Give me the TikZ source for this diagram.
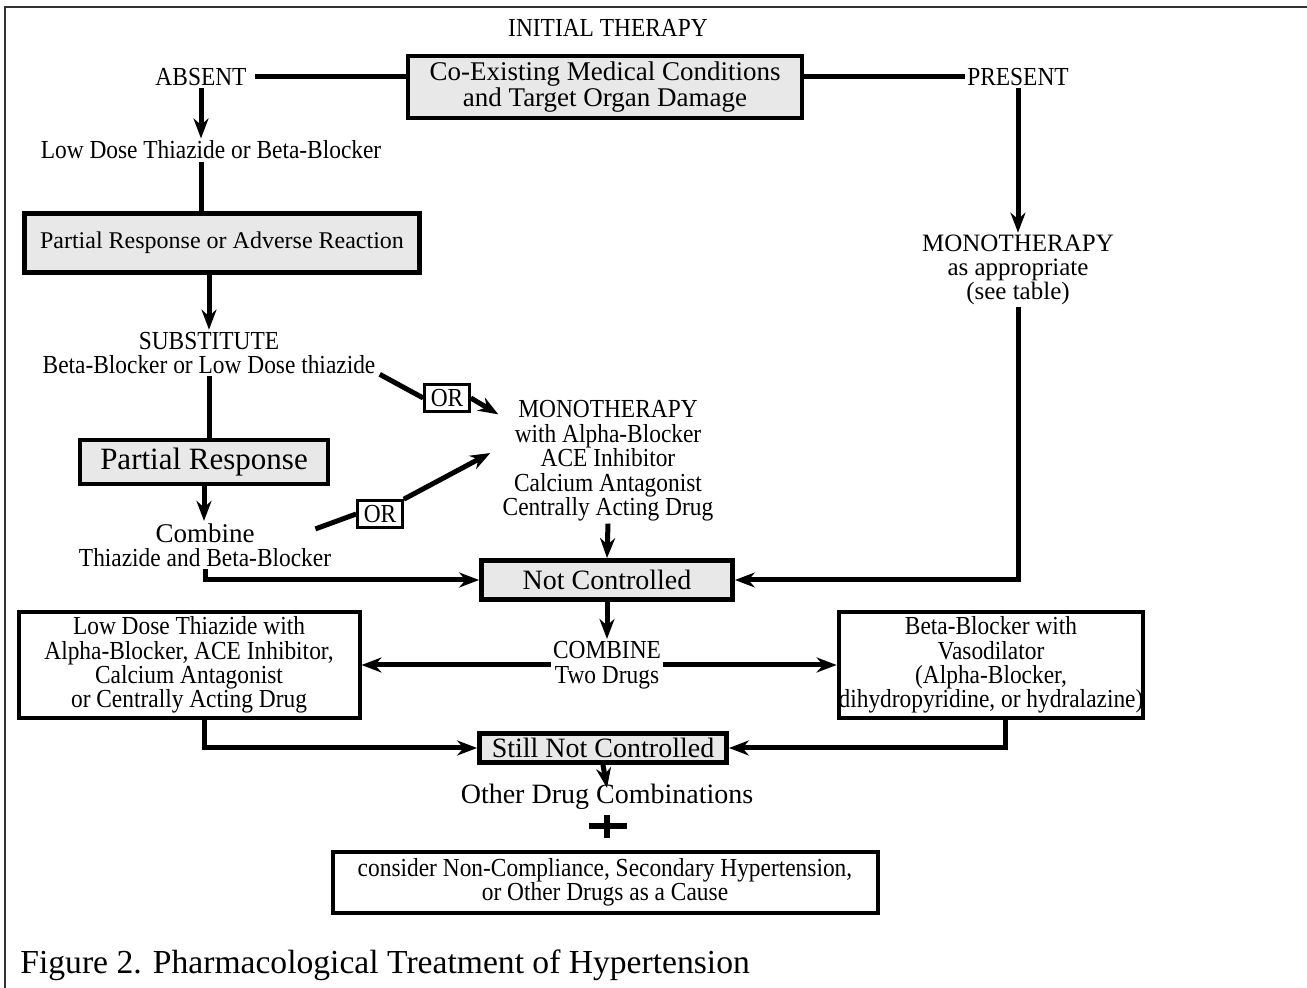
\documentclass[tikz,border=0pt]{standalone}
\usepackage{fontspec}
\setmainfont{Liberation Serif}
\newfontfamily\condfont{Liberation Serif}[FakeStretch=0.9]
\usepackage{tikz}
\usetikzlibrary{calc}
\usetikzlibrary{arrows.meta}
\usetikzlibrary{positioning}
\newcommand{\cfs}{\condfont\fontsize{13}{12.2}\selectfont}
\newcommand{\wfs}{\fontsize{13.5}{12}\selectfont}
\tikzset{graybox/.style={draw, line width=2.4pt, fill=black!9, inner sep=0pt, align=center, font=\wfs}}
\tikzset{whitebox/.style={draw, line width=2pt, fill=white, inner sep=0pt, align=center, font=\cfs}}
\tikzset{orbox/.style={draw, line width=1.3pt, fill=white, inner sep=0pt, minimum width=22.5pt, minimum height=13.5pt, font=\cfs}}
\tikzset{lbl/.style={inner sep=1pt, align=center, font=\cfs}}
\tikzset{wlbl/.style={inner sep=1pt, align=center, font=\wfs}}
\tikzset{conn/.style={line width=2.5pt}}
\tikzset{arr/.style={line width=2.5pt, -{Stealth[length=10pt, width=7.5pt]}}}

\begin{document}
\begin{tikzpicture}[x=0.5pt,y=-0.5pt]
  \useasboundingbox (0,0) rectangle (1307,988);
  \draw[line width=1pt, black!80] (5,988) -- (5,7) -- (1307,7);

  % top row
  \node[lbl] (title) at (608,28) {INITIAL THERAPY};
  \node[graybox, minimum width=197pt, minimum height=31pt] (cond) at (605,87) {Co-Existing Medical Conditions\\and Target Organ Damage};
  \node[lbl] (absent) at (201,77) {ABSENT};
  \node[lbl] (present) at (1018,77) {PRESENT};

  % left column
  \node[lbl] (lowdose) at (211,150) {Low Dose Thiazide or Beta-Blocker};
  \node[graybox, minimum width=197.5pt, minimum height=29.5pt, font=\fontsize{12}{12}\selectfont] (partA) at (222,243) {Partial Response or Adverse Reaction};
  \node[lbl] (subst) at (209,353) {SUBSTITUTE\\Beta-Blocker or Low Dose thiazide};
  \node[graybox, minimum width=124pt, minimum height=22pt, font=\fontsize{15.5}{12}\selectfont] (partB) at (204,462) {Partial Response};
  \node[lbl] (combine) at (205,545) {{\fontsize{13.5}{12}\selectfont\rmfamily Combine}\\Thiazide and Beta-Blocker};

  % middle
  \node[lbl] (mono) at (608,461) {MONOTHERAPY\\with Alpha-Blocker\\ACE Inhibitor\\Calcium Antagonist\\Centrally Acting Drug};
  \node[orbox] (or1) at (447,398) {OR};
  \node[orbox] (or2) at (380,514) {OR};

  % right column
  \node[wlbl, font=\fontsize{12.5}{12}\selectfont] (monoR) at (1018,270) {MONOTHERAPY\\as appropriate\\(see table)};

  % lower part
  \node[graybox, minimum width=125.5pt, minimum height=19.5pt, font=\fontsize{14}{12}\selectfont] (notctl) at (607,580) {Not Controlled};
  \node[lbl] (comb2) at (607,665) {COMBINE\\Two Drugs};
  \node[whitebox, minimum width=170.5pt, minimum height=53pt] (lbox) at (189,665) {Low Dose Thiazide with\\Alpha-Blocker, ACE Inhibitor,\\Calcium Antagonist\\or Centrally Acting Drug};
  \node[whitebox, minimum width=141pt, minimum height=53pt] (rbox) at (991,665) {Beta-Blocker with\\Vasodilator\\(Alpha-Blocker,\\dihydropyridine, or hydralazine)};
  \node[graybox, minimum width=123.5pt, minimum height=14.5pt, font=\fontsize{14}{12}\selectfont] (still) at (603,748) {Still Not Controlled};
  \node[wlbl, font=\fontsize{14}{12}\selectfont] (other) at (607,797) {Other Drug Combinations};
  \node[whitebox, minimum width=272.5pt, minimum height=30.5pt] (consider) at (605,882) {consider Non-Compliance, Secondary Hypertension,\\or Other Drugs as a Cause};
  \node[anchor=west, inner sep=0pt, font=\fontsize{16.8}{16}\selectfont] (caption) at (20,965) {Figure 2. Pharmacological Treatment of Hypertension};

  % plus sign
  \draw[line width=2.6pt] (589,826) -- (627,826);
  \draw[line width=2.6pt] (607,815) -- (607,838);

  % connectors
  \draw[conn, shorten <=3pt] (absent.east) -- (absent.east -| cond.west);
  \draw[conn] (present.west -| cond.east) -- (present.west);
  \draw[arr] (absent.south) -- (absent.south |- lowdose.north);
  \draw[conn] (lowdose.south -| absent.south) -- (absent.south |- partA.north);
  \draw[arr] (subst.north |- partA.south) -- (subst.north);
  \draw[conn] (subst.south) -- (subst.south |- partB.north);
  \draw[arr] (partB.south) -- (partB.south |- combine.north);
  \draw[arr] (combine.south) |- (notctl.west);
  \draw[conn] ($(subst.south east)+(2,-2)$) -- (or1.west);
  \draw[arr] (or1.east) -- ($(mono.north west)+(-2,16)$);
  \draw[conn] ($(combine.north east)+(-18,8)$) -- (or2.west);
  \draw[arr] (or2.north east) -- ($(mono.west)+(-10,-8)$);
  \draw[arr] (mono.south) -- (notctl.north);
  \draw[arr] (present.south) -- (monoR.north);
  \draw[arr] (monoR.south) |- (notctl.east);
  \draw[arr] (notctl.south) -- (comb2.north);
  \draw[arr] (comb2.west) -- (comb2.west -| lbox.east);
  \draw[arr] (comb2.east) -- (comb2.east -| rbox.west);
  \coordinate (lfoot) at ($(lbox.south)+(15,0)$);
  \coordinate (rfoot) at ($(rbox.south)+(14,0)$);
  \draw[arr] (lfoot) |- (still.west);
  \draw[arr] (rfoot) |- (still.east);
  \draw[arr] (still.south) -- ($(other.north)+(0,6)$);
\end{tikzpicture}
\end{document}
